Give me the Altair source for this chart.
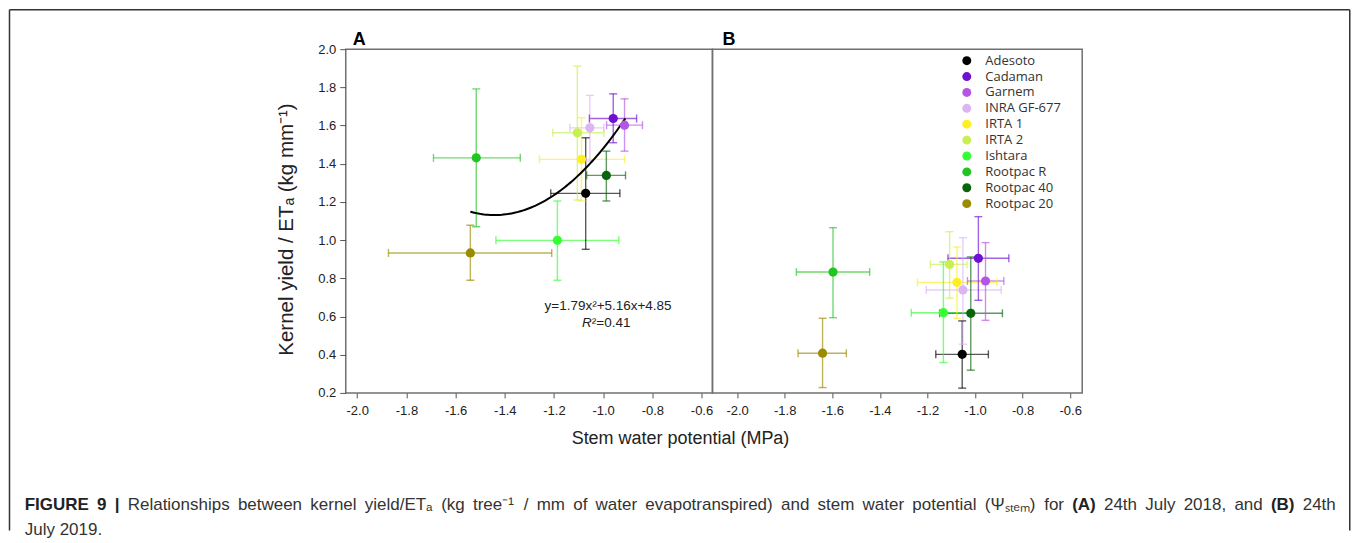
import altair as alt
import numpy as np
import pandas as pd

# ---------------- data ----------------
varieties = ["Adesoto", "Cadaman", "Garnem", "INRA GF-677", "IRTA 1", "IRTA 2",
             "Ishtara", "Rootpac R", "Rootpac 40", "Rootpac 20"]
colors = ["#000000", "#7010d0", "#b455e6", "#dcb4f2", "#ffee22", "#c8f050",
          "#33ff33", "#22c422", "#0a640a", "#9a8c00"]

# Panel A (24th July 2018)
a_x   = [-1.071, -0.959, -0.913, -1.054, -1.088, -1.105, -1.186, -1.516, -0.987, -1.540]
a_y   = [ 1.245,  1.637,  1.602,  1.588,  1.423,  1.562,  0.999,  1.431,  1.339,  0.933]
a_xlo = [-1.213, -1.056, -0.986, -1.135, -1.259, -1.205, -1.436, -1.690, -1.067, -1.873]
a_xhi = [-0.932, -0.864, -0.840, -0.997, -0.913, -0.997, -0.936, -1.337, -0.909, -1.209]
a_ylo = [ 0.952,  1.510,  1.466,  1.414,  1.205,  1.210,  0.790,  1.070,  1.205,  0.790]
a_yhi = [ 1.536,  1.766,  1.740,  1.758,  1.641,  1.911,  1.205,  1.792,  1.466,  1.078]

# Panel B (24th July 2019)
b_x   = [-1.054, -0.986, -0.956, -1.051, -1.076, -1.107, -1.133, -1.597, -1.018, -1.641]
b_y   = [ 0.402,  0.905,  0.786,  0.739,  0.779,  0.873,  0.620,  0.833,  0.617,  0.408]
b_xlo = [-1.165, -1.114, -1.032, -1.205, -1.242, -1.188, -1.268, -1.751, -1.149, -1.744]
b_xhi = [-0.944, -0.858, -0.879, -0.890, -0.908, -1.034, -1.007, -1.443, -0.885, -1.541]
b_ylo = [ 0.225,  0.685,  0.580,  0.455,  0.591,  0.696,  0.359,  0.594,  0.319,  0.228]
b_yhi = [ 0.577,  1.123,  0.987,  1.013,  0.964,  1.044,  0.886,  1.065,  0.912,  0.591]

# quadratic fit shown in panel A: y = c2 x^2 + c1 x + c0
fit_coef = [1.79, 5.16, 4.85]
fit_range = [-1.54, -0.91]

x_ticks = [-2.0, -1.8, -1.6, -1.4, -1.2, -1.0, -0.8, -0.6]
y_ticks = [0.2, 0.4, 0.6, 0.8, 1.0, 1.2, 1.4, 1.6, 1.8, 2.0]

# caption (words; * marks bold words)
caption_line1 = ["*FIGURE", "*9", "*|", "Relationships", "between", "kernel", "yield/ET\u2090",
                 "(kg", "tree\u207b\u00b9", "/", "mm", "of", "water", "evapotranspired)", "and",
                 "stem", "water", "potential", "(\u03a8\u209b\u209c\u2091\u2098)", "for", "*(A)",
                 "24th", "July", "2018,", "and", "*(B)", "24th"]
caption_line2 = "July 2019."

FONT = "Liberation Sans"
GRAY = "#222222"
LABEXPR = "replace(format(datum.value, '.1f'), '\u2212', '-')"

# approximate Arial/Liberation Sans advance widths (per 1000 em) for caption layout
_W = {" ": 278, "(": 333, ")": 333, "/": 278, "-": 333, ".": 278, ",": 278, "|": 260,
      "A": 667, "B": 667, "E": 667, "F": 611, "G": 778, "I": 278, "J": 500, "R": 722,
      "T": 611, "U": 722, "a": 556, "b": 556, "c": 500, "d": 556, "e": 556, "f": 278,
      "g": 556, "h": 556, "i": 222, "j": 222, "k": 500, "l": 222, "m": 833, "n": 556,
      "o": 556, "p": 556, "q": 556, "r": 333, "s": 500, "t": 278, "u": 556, "v": 500,
      "w": 722, "x": 500, "y": 500, "z": 500, "\u03a8": 820,
      "\u207b": 230, "\u00b9": 230,
      "\u2090": 400, "\u209b": 350, "\u209c": 270, "\u2091": 370, "\u2098": 540}
_WB = {"A": 722, "B": 722, "|": 280, "r": 389, "t": 333}


def text_width(word, bold, fs):
    tot = 0
    for ch in word:
        if ch.isdigit():
            w = 556
        elif bold and ch in _WB:
            w = _WB[ch]
        else:
            w = _W.get(ch, 400)
        tot += w
    return tot / 1000.0 * fs


def make_df(x, y, xlo, xhi, ylo, yhi):
    return pd.DataFrame({"variety": varieties, "hex": colors, "x": x, "y": y,
                         "xlo": xlo, "xhi": xhi, "ylo": ylo, "yhi": yhi})


def panel(df, xdom, width, is_a):
    xs = alt.Scale(domain=xdom, nice=False, zero=False)
    ys = alt.Scale(domain=[0.2, 2.0], nice=False, zero=False)
    xaxis = alt.Axis(values=x_ticks, labelExpr=LABEXPR, tickSize=5, tickColor="#555",
                     labelPadding=7, labelFontSize=13, labelFont=FONT, labelColor=GRAY,
                     domain=False, grid=False,
                     title="Stem water potential (MPa)" if is_a else None,
                     titleFont=FONT, titleFontSize=18, titleFontWeight="normal",
                     titleColor=GRAY, titlePadding=12,
                     **({"titleX": 334.5} if is_a else {}))
    if is_a:
        yaxis = alt.Axis(values=y_ticks, labelExpr=LABEXPR, tickSize=6, tickColor="#555",
                         labelPadding=4, labelFontSize=13, labelFont=FONT, labelColor=GRAY,
                         domain=False, grid=False,
                         title="Kernel yield / ET\u2090 (kg mm\u207b\u00b9)",
                         titleFont=FONT, titleFontSize=20.5, titleFontWeight="normal",
                         titleColor=GRAY, titlePadding=21, titleY=180)
    else:
        yaxis = None
    cscale = alt.Scale(domain=varieties, range=colors)
    barcol = alt.Color("hex:N", scale=None)

    base = alt.Chart(df)
    op = 0.65
    hbar = base.mark_rule(strokeWidth=1.4, opacity=op).encode(
        x=alt.X("xlo:Q", scale=xs, axis=xaxis), x2="xhi:Q",
        y=alt.Y("y:Q", scale=ys, axis=yaxis), color=barcol)
    vbar = base.mark_rule(strokeWidth=1.4, opacity=op).encode(
        x=alt.X("x:Q", scale=xs, axis=xaxis),
        y=alt.Y("ylo:Q", scale=ys, axis=yaxis), y2="yhi:Q", color=barcol)
    caps = []
    for f in ["xlo", "xhi"]:
        caps.append(base.mark_tick(orient="vertical", size=8, thickness=1.4, opacity=op).encode(
            x=alt.X(f + ":Q", scale=xs, axis=xaxis),
            y=alt.Y("y:Q", scale=ys, axis=yaxis), color=barcol))
    for f in ["ylo", "yhi"]:
        caps.append(base.mark_tick(orient="horizontal", size=8, thickness=1.4, opacity=op).encode(
            x=alt.X("x:Q", scale=xs, axis=xaxis),
            y=alt.Y(f + ":Q", scale=ys, axis=yaxis), color=barcol))

    if is_a:
        pcol = alt.Color("variety:N", scale=cscale, legend=None)
    else:
        pcol = alt.Color("variety:N", scale=cscale, legend=alt.Legend(
            title=None, orient="none", legendX=248, legendY=5, symbolType="circle",
            symbolSize=80, symbolStrokeWidth=0, symbolOpacity=1,
            labelFont="Open Sans", labelFontSize=13,
            labelColor="#333", labelOffset=12, rowPadding=1.9, padding=0))
    pts = base.mark_circle(size=85, opacity=1).encode(
        x=alt.X("x:Q", scale=xs, axis=xaxis),
        y=alt.Y("y:Q", scale=ys, axis=yaxis), color=pcol, opacity=alt.value(1))

    layers = [hbar, vbar] + caps

    one = pd.DataFrame({"k": [0]})
    if is_a:
        cx = np.linspace(fit_range[0], fit_range[1], 80)
        cdf = pd.DataFrame({"x": cx, "y": fit_coef[0] * cx ** 2 + fit_coef[1] * cx + fit_coef[2]})
        curve = alt.Chart(cdf).mark_line(color="black", strokeWidth=2).encode(
            x=alt.X("x:Q", scale=xs, axis=xaxis), y=alt.Y("y:Q", scale=ys, axis=yaxis))
        layers.append(curve)
    layers.append(pts)

    if is_a:
        eq_pos = [-0.98, 0.655]
        r_pos = [-1.046, 0.566]
        eq = alt.Chart(one).mark_text(text="y=1.79x\u00b2+5.16x+4.85", font=FONT, fontSize=13.5,
                                      color=GRAY, align="center", baseline="middle").encode(
            x=alt.X("ex:Q", scale=xs, axis=xaxis), y=alt.Y("ey:Q", scale=ys, axis=yaxis)
        ).transform_calculate(ex=str(eq_pos[0]), ey=str(eq_pos[1]))
        r1 = alt.Chart(one).mark_text(text="R", font=FONT, fontSize=13.5, fontStyle="italic",
                                      color=GRAY, align="right", baseline="middle").encode(
            x=alt.X("ex:Q", scale=xs, axis=xaxis), y=alt.Y("ey:Q", scale=ys, axis=yaxis)
        ).transform_calculate(ex=str(r_pos[0]), ey=str(r_pos[1]))
        r2 = alt.Chart(one).mark_text(text="\u00b2=0.41", font=FONT, fontSize=13.5,
                                      color=GRAY, align="left", baseline="middle").encode(
            x=alt.X("ex:Q", scale=xs, axis=xaxis), y=alt.Y("ey:Q", scale=ys, axis=yaxis)
        ).transform_calculate(ex=str(r_pos[0]), ey=str(r_pos[1]))
        layers += [eq, r1, r2]

    # panel letter
    lab = alt.Chart(one).mark_text(text="A" if is_a else "B", font=FONT, fontSize=18,
                                   fontWeight="bold", color="black", align="left",
                                   baseline="alphabetic").encode(
        x=alt.value(7 if is_a else 10), y=alt.value(-4))
    layers.append(lab)

    if is_a:
        # figure frame (left, top, right) and caption
        L, T, R, BOT = -336.5, -39.5, 1004.75, 481.75
        fr = "#333333"
        layers.append(alt.Chart(one).mark_rule(color=fr, strokeWidth=1.5).encode(
            x=alt.value(L), y=alt.value(T), y2=alt.value(BOT)))
        layers.append(alt.Chart(one).mark_rule(color=fr, strokeWidth=1.5).encode(
            x=alt.value(L), x2=alt.value(R), y=alt.value(T)))
        layers.append(alt.Chart(one).mark_rule(color=fr, strokeWidth=1.5).encode(
            x=alt.value(R), y=alt.value(T), y2=alt.value(BOT)))
        ox = -345.25
        oy = -48.25
        fs = 17
        left, right = 24.0, 1336.0
        words = [(w.lstrip("*"), w.startswith("*")) for w in caption_line1]
        widths = [text_width(w, b, fs) for w, b in words]
        gap = (right - left - sum(widths)) / (len(words) - 1)
        xpos = left
        for (w, b), wd in zip(words, widths):
            layers.append(alt.Chart(one).mark_text(
                text=w, font=FONT, fontSize=fs, fontWeight="bold" if b else "normal",
                color="#222" if b else "#333", align="left", baseline="alphabetic"
            ).encode(x=alt.value(xpos + ox), y=alt.value(509 + oy)))
            xpos += wd + gap
        layers.append(alt.Chart(one).mark_text(
            text=caption_line2, font=FONT, fontSize=fs, color="#333", align="left",
            baseline="alphabetic").encode(x=alt.value(left + ox), y=alt.value(534 + oy)))

    return alt.layer(*layers).properties(width=width, height=344)


dfa = make_df(a_x, a_y, a_xlo, a_xhi, a_ylo, a_yhi)
dfb = make_df(b_x, b_y, b_xlo, b_xhi, b_ylo, b_yhi)

pa = panel(dfa, [-2.0467, -0.5554], 367, True)
pb = panel(dfb, [-2.1037, -0.5496], 370, False)

chart = alt.hconcat(pa, pb, spacing=0, bounds="flush", padding=0).resolve_scale(
    x="independent", y="independent", color="independent"
).resolve_legend(color="independent").configure(
    background="white"
).configure_view(
    stroke="#707070", strokeWidth=1.5
).configure_legend(symbolOpacity=1)

chart.save("out.html", embed_options={"renderer": "svg", "actions": False})
